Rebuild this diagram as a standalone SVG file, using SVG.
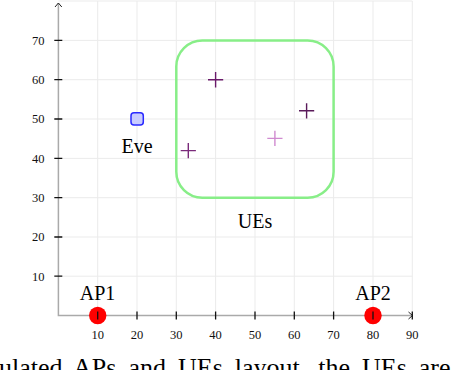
<svg xmlns="http://www.w3.org/2000/svg" width="454" height="370" viewBox="0 0 454 370">
<style>
.grid{stroke:#ebebeb;stroke-width:1;fill:none}
.axis{stroke:#aaaaaa;stroke-width:1.5;fill:none}
.tick{stroke:#111;stroke-width:1.3}
.arr{stroke:#222;stroke-width:1;fill:none}
.tl{font-family:"Liberation Serif","Times New Roman",serif;font-size:12.5px;fill:#111}
.lbl{font-family:"Liberation Serif","Times New Roman",serif;font-size:20px;fill:#000}
.cap{font-family:"Liberation Serif","Times New Roman",serif;font-size:26px;fill:#000;word-spacing:5.5px}
.ue{stroke-width:1.4;fill:none}
</style>
<rect width="454" height="370" fill="#fff"/>
<g id="grid">
<path class="grid" d="M97.7 1V315.5M137 1V315.5M176.3 1V315.5M215.6 1V315.5M255 1V315.5M294.3 1V315.5M333.6 1V315.5M373 1V315.5M412.3 1V315.5M58.4 1H412.3M58.4 40.4H412.3M58.4 79.7H412.3M58.4 119H412.3M58.4 158.4H412.3M58.4 197.7H412.3M58.4 237H412.3M58.4 276.2H412.3"/>
</g>
<g id="axes">
<path class="axis" d="M58.4 3V315.5H412"/>
<path class="arr" d="M55 7L58.4 3L61.8 7M408.5 312L412.5 315.5L408.5 319"/>
<path class="tick" d="M54.3 40.4H62.3M54.3 79.7H62.3M54.3 119H62.3M54.3 158.4H62.3M54.3 197.7H62.3M54.3 237H62.3M54.3 276.2H62.3M97.7 311.5V319.5M137 311.5V319.5M176.3 311.5V319.5M215.6 311.5V319.5M255 311.5V319.5M294.3 311.5V319.5M333.6 311.5V319.5M373 311.5V319.5M412.3 311.5V319.5"/>
<g class="tl" text-anchor="end">
<text x="44.5" y="44.8">70</text>
<text x="44.5" y="84.1">60</text>
<text x="44.5" y="123.4">50</text>
<text x="44.5" y="162.8">40</text>
<text x="44.5" y="202.1">30</text>
<text x="44.5" y="241.4">20</text>
<text x="44.5" y="280.6">10</text>
</g>
<g class="tl" text-anchor="middle">
<text x="97.7" y="338.5">10</text>
<text x="137" y="338.5">20</text>
<text x="176.3" y="338.5">30</text>
<text x="215.6" y="338.5">40</text>
<text x="255" y="338.5">50</text>
<text x="294.3" y="338.5">60</text>
<text x="333.6" y="338.5">70</text>
<text x="373" y="338.5">80</text>
<text x="412.3" y="338.5">90</text>
</g>
</g>
<g id="ues-region">
<rect x="176.3" y="40.4" width="157.3" height="157.3" rx="26" fill="none" stroke="#88ee88" stroke-width="2.5"/>
<text class="lbl" x="255" y="228" text-anchor="middle">UEs</text>
</g>
<g id="ue1"><path class="ue" stroke="#6a1a6a" d="M208 79.7H223.2M215.6 72V87.4"/></g>
<g id="ue2"><path class="ue" stroke="#7a2a7a" d="M180.7 150.6H195.9M188.3 143V158.2"/></g>
<g id="ue3"><path class="ue" stroke="#5a1a5a" d="M299 110.8H314.2M306.6 103.2V118.4"/></g>
<g id="ue4"><path class="ue" stroke="#d08ad0" d="M267.3 138.4H282.5M274.9 130.8V146"/></g>
<g id="eve">
<rect x="131" y="112.8" width="12.3" height="12.3" rx="3" fill="#c8ccff" stroke="#2a2aff" stroke-width="1.5"/>
<text class="lbl" x="137" y="153" text-anchor="middle">Eve</text>
</g>
<g id="ap1">
<circle cx="97.7" cy="315.5" r="8.7" fill="#ff0000"/>
<path class="tick" d="M97.7 311.5V319.5"/>
<text class="lbl" x="97.5" y="300" text-anchor="middle">AP1</text>
</g>
<g id="ap2">
<circle cx="373" cy="315.5" r="8.7" fill="#ff0000"/>
<path class="tick" d="M373 311.5V319.5"/>
<text class="lbl" x="373" y="300" text-anchor="middle">AP2</text>
</g>
<text class="cap" x="-1" y="375.5">ulated APs and UEs layout, the UEs are</text>
</svg>
